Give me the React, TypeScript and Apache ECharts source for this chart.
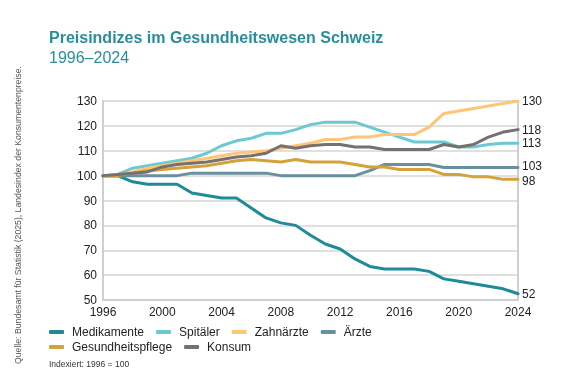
import React, { useEffect, useRef } from "react";
import * as echarts from "echarts";

const years = [1996, 1997, 1998, 1999, 2000, 2001, 2002, 2003, 2004, 2005, 2006, 2007, 2008, 2009, 2010, 2011, 2012, 2013, 2014, 2015, 2016, 2017, 2018, 2019, 2020, 2021, 2022, 2023, 2024];

const medikamente = [100, 100, 97.5, 96.5, 96.5, 96.5, 93, 92, 91, 91, 87, 83, 81, 80, 76, 72.5, 70.5, 66.5, 63.5, 62.5, 62.5, 62.5, 61.5, 58.5, 57.5, 56.5, 55.5, 54.5, 52.5];
const spitaeler = [100, 100.5, 103, 104, 105, 106, 107, 109, 112, 114, 115, 117, 117, 118.5, 120.5, 121.5, 121.5, 121.5, 119.5, 117.5, 115.5, 113.5, 113.5, 113.5, 111.5, 111.5, 112.5, 113, 113];
const zahnaerzte = [100, 100, 101.5, 103, 104, 105, 106, 107, 108, 109, 109.5, 110, 111, 112, 113, 114.5, 114.5, 115.5, 115.5, 116.5, 116.5, 116.5, 119.5, 125, 126, 127, 128, 129, 130];
const aerzte = [100, 100, 100, 100, 100, 100, 101, 101, 101, 101, 101, 101, 100, 100, 100, 100, 100, 100, 102, 104.5, 104.5, 104.5, 104.5, 103.3, 103.3, 103.3, 103.3, 103.3, 103.3];
const gesundheitspflege = [100, 100, 101, 102, 102.5, 103, 103.5, 104, 105, 106, 106.5, 106, 105.5, 106.5, 105.5, 105.5, 105.5, 104.5, 103.5, 103.5, 102.5, 102.5, 102.5, 100.5, 100.5, 99.5, 99.5, 98.5, 98.5];
const konsum = [100, 100.5, 101, 101.5, 103.5, 104.5, 105, 105.5, 106.5, 107.5, 108, 109, 112, 111, 112, 112.5, 112.5, 111.5, 111.5, 110.5, 110.5, 110.5, 110.5, 112.5, 111.5, 112.5, 115.5, 117.5, 118.5];

const seriesNames = ["Medikamente", "Spitäler", "Zahnärzte", "Ärzte", "Gesundheitspflege", "Konsum"];
const seriesValues = [medikamente, spitaeler, zahnaerzte, aerzte, gesundheitspflege, konsum];
const seriesColors = ["#1f8a98", "#6cc9d2", "#fdc676", "#6a909d", "#d3a23a", "#76706f"];
const endLabelShift = [0, 0, 0, -1.5, 1.5, 0];

const legendRow1 = ["Medikamente", "Spitäler", "Zahnärzte", "Ärzte"];
const legendRow2 = ["Gesundheitspflege", "Konsum"];

const titleText = "Preisindizes im Gesundheitswesen Schweiz";
const subtitleText = "1996–2024";
const noteText = "Indexiert: 1996 = 100";
const sourceText = "Quelle: Bundesamt für Statistik (2025), Landesindex der Konsumentenpreise.";

const FONT = "'Liberation Sans', Arial, Helvetica, sans-serif";

export default function App() {
  const ref = useRef<HTMLDivElement>(null);

  useEffect(() => {
    if (!ref.current) return;
    const chart = echarts.init(ref.current, null, { renderer: "svg" });

    const legendCommon = {
      left: 49,
      itemGap: 12,
      itemWidth: 15,
      itemHeight: 4,
      icon: "roundRect",
      padding: 0,
      textStyle: { fontSize: 12, color: "#222", fontFamily: FONT, padding: [0, 0, 0, 3] },
    };

    chart.setOption({
      animation: false,
      textStyle: { fontFamily: FONT },
      grid: { left: 103, right: 45, top: 101, bottom: 85, containLabel: false },
      legend: [
        { ...legendCommon, data: legendRow1, top: 326 },
        { ...legendCommon, data: legendRow2, top: 341 },
      ],
      xAxis: {
        type: "value",
        min: 1996,
        max: 2024,
        interval: 4,
        axisLine: { show: true, lineStyle: { color: "#cfcfcf", width: 2 } },
        axisTick: { show: false },
        splitLine: { show: false },
        axisLabel: { fontSize: 12, color: "#222", margin: 6, formatter: (v: number) => String(v), fontFamily: FONT },
      },
      yAxis: [
        {
          type: "value",
          min: 50,
          max: 130,
          interval: 10,
          axisLine: { show: true, lineStyle: { color: "#cfcfcf", width: 2 } },
          axisTick: { show: false },
          splitLine: { show: true, lineStyle: { color: "#d6d6d6", width: 1.5 } },
          axisLabel: { fontSize: 12, color: "#222", margin: 6, fontFamily: FONT },
        },
        {
          type: "value",
          position: "right",
          min: 50,
          max: 130,
          interval: 10,
          axisLine: { show: true, lineStyle: { color: "#cfcfcf", width: 2 } },
          axisTick: { show: false },
          splitLine: { show: false },
          axisLabel: { show: false },
        },
      ],
      series: seriesNames.map((name, i) => ({
        name,
        type: "line",
        yAxisIndex: 0,
        data: years.map((y, j) => [y, seriesValues[i][j]]),
        showSymbol: false,
        symbol: "none",
        color: seriesColors[i],
        lineStyle: { width: 3, color: seriesColors[i], cap: "round", join: "round" },
        endLabel: {
          show: true,
          formatter: (p: any) => String(Math.floor(p.value[1])),
          color: "#222",
          fontSize: 12,
          distance: 4,
          offset: [0, endLabelShift[i]],
          fontFamily: FONT,
        },
      })),
      graphic: [
        {
          type: "text",
          left: 49,
          top: 29,
          style: { text: titleText, fill: "#2a8d9b", font: `bold 16px ${FONT}` },
        },
        {
          type: "text",
          left: 49,
          top: 49,
          style: { text: subtitleText, fill: "#2a8d9b", font: `16px ${FONT}` },
        },
        {
          type: "text",
          left: 49,
          top: 359,
          style: { text: noteText, fill: "#333", font: `8.5px ${FONT}` },
        },
        {
          type: "text",
          x: 22,
          y: 364,
          rotation: Math.PI / 2,
          style: { text: sourceText, fill: "#555", font: `8.7px ${FONT}`, align: "left", verticalAlign: "bottom" },
        },
      ],
    });

    return () => chart.dispose();
  }, []);

  return <div ref={ref} style={{ position: "fixed", left: 0, top: 0, width: 563, height: 385 }} />;
}
